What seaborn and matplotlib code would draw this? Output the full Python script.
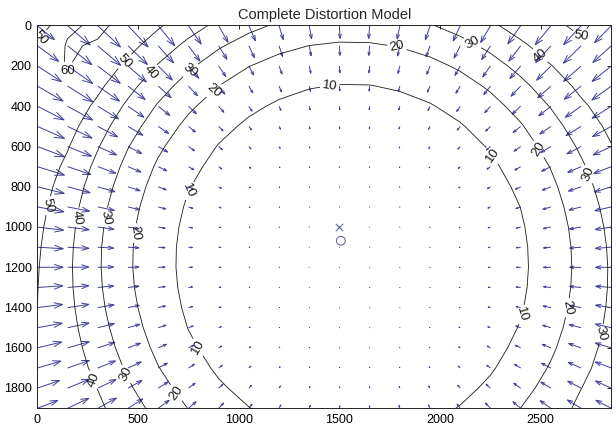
import numpy as np
import matplotlib
matplotlib.use("Agg")
import matplotlib.pyplot as plt
import seaborn as sns
import pandas as pd

# ---------------- data (calibration model) ----------------
image_size = [3000, 2000]                 # nx, ny (image centre marked with 'x')
grid_div = 20                             # arrows per axis
focal = [2000.0, 2000.0]                  # fc
principal_point = [1507.0, 1068.0]        # cc, marked with 'o'
kc = [-0.04570, -0.10574, 0.003524, 0.001816, 0.16470]   # k1 k2 p1 p2 k5
contour_levels = [10, 20, 30, 40, 50, 60]
x_ticks = [0, 500, 1000, 1500, 2000, 2500]
y_ticks = [0, 200, 400, 600, 800, 1000, 1200, 1400, 1600, 1800]
title_text = "Complete Distortion Model"

# contour label anchor positions (data coords), per level
label_pos = {
    10: [(1454, 310), (770, 828), (2380, 1428), (800, 1597), (2280, 633)],
    20: [(1786, 112), (874, 320), (478, 1030), (696, 1820), (2509, 603), (2618, 1398)],
    30: [(760, 221), (2162, 87), (330, 951), (454, 1725), (2756, 732), (2781, 1527)],
    40: [(562, 231), (2509, 136), (191, 951), (300, 1750)],
    50: [(428, 171), (2727, 97), (17, 62), (42, 891)],
    60: [(141, 236)],
}

# ---------------- model evaluation ----------------
nx, ny = image_size
mx, my = np.meshgrid(np.arange(0, nx - 1, nx / grid_div),
                     np.arange(0, ny - 1, ny / grid_div))
k1, k2, p1, p2, k5 = kc
xn = (mx - principal_point[0]) / focal[0]
yn = (my - principal_point[1]) / focal[1]
r2 = xn ** 2 + yn ** 2
rad = 1 + k1 * r2 + k2 * r2 ** 2 + k5 * r2 ** 3
xd = xn * rad + 2 * p1 * xn * yn + p2 * (r2 + 2 * xn ** 2)
yd = yn * rad + p1 * (r2 + 2 * yn ** 2) + 2 * p2 * xn * yn
dx = focal[0] * xd + principal_point[0] - mx
dy = focal[1] * yd + principal_point[1] - my
dr = np.hypot(dx, dy)

# ---------------- figure ----------------
sns.set_theme(style="white")
plt.rcParams["font.family"] = ["Liberation Sans", "DejaVu Sans"]

fig = plt.figure(figsize=(6.16, 4.30), dpi=100)
ax = fig.add_axes([0.0593, 0.0505, 0.9342, 0.8902])

# MATLAB-style quiver (autoscaled line arrows)
n = grid_div
delx = (mx.max() - mx.min()) / n
dely = (my.max() - my.min()) / n
scale = 0.9 * np.hypot(delx, dely) / dr.max()
u = (dx * scale).ravel()
v = (dy * scale).ravel()
X = mx.ravel() + 1
Y = my.ravel() + 1
a = b = 0.33
e = np.finfo(float).eps
nan = np.full_like(X, np.nan)
sx = np.column_stack([X, X + u, nan]).ravel()
sy = np.column_stack([Y, Y + v, nan]).ravel()
hx = np.column_stack([X + u - a * (u + b * (v + e)), X + u, X + u - a * (u - b * (v + e)), nan]).ravel()
hy = np.column_stack([Y + v - a * (v - b * (u + e)), Y + v, Y + v - a * (v + b * (u + e)), nan]).ravel()
arrow_color = "#3e3e99"
ax.plot(sx, sy, color=arrow_color, lw=0.7, solid_capstyle="butt")
ax.plot(hx, hy, color=arrow_color, lw=0.7)

# markers
mk = pd.DataFrame({"x": [principal_point[0] + 1], "y": [principal_point[1] + 1]})
ce = pd.DataFrame({"x": [(nx - 1) / 2 + 1], "y": [(ny - 1) / 2 + 1]})
sns.scatterplot(data=mk, x="x", y="y", ax=ax, marker="o", s=40,
                facecolors="none", edgecolor="#6a6aa6", linewidth=0.8, legend=False)
sns.scatterplot(data=ce, x="x", y="y", ax=ax, marker="x", s=28,
                color="#6a6aa6", linewidth=0.8, legend=False)

# contours with labels
for lvl in contour_levels:
    cs = ax.contour(mx, my, dr, levels=[lvl], colors="k", linewidths=0.6)
    if len(cs.allsegs[0]) and label_pos.get(lvl):
        ax.clabel(cs, levels=[lvl], manual=label_pos[lvl], inline=True,
                  inline_spacing=2, fontsize=9.5, fmt="%d")

ax.set_xlim(0, 2851)
ax.set_ylim(1901, 0)
ax.set_aspect("equal", adjustable="box")
ax.set_xticks(x_ticks)
ax.set_yticks(y_ticks)
ax.tick_params(direction="in", length=3, width=0.6, labelsize=9,
               top=True, right=True, pad=4, colors="black")
for s in ax.spines.values():
    s.set_linewidth(0.7)
    s.set_color("#222222")
ax.set_xlabel("")
ax.set_ylabel("")
ax.set_title(title_text, fontsize=10.5, pad=5)

fig.savefig("out.png", dpi=100)
